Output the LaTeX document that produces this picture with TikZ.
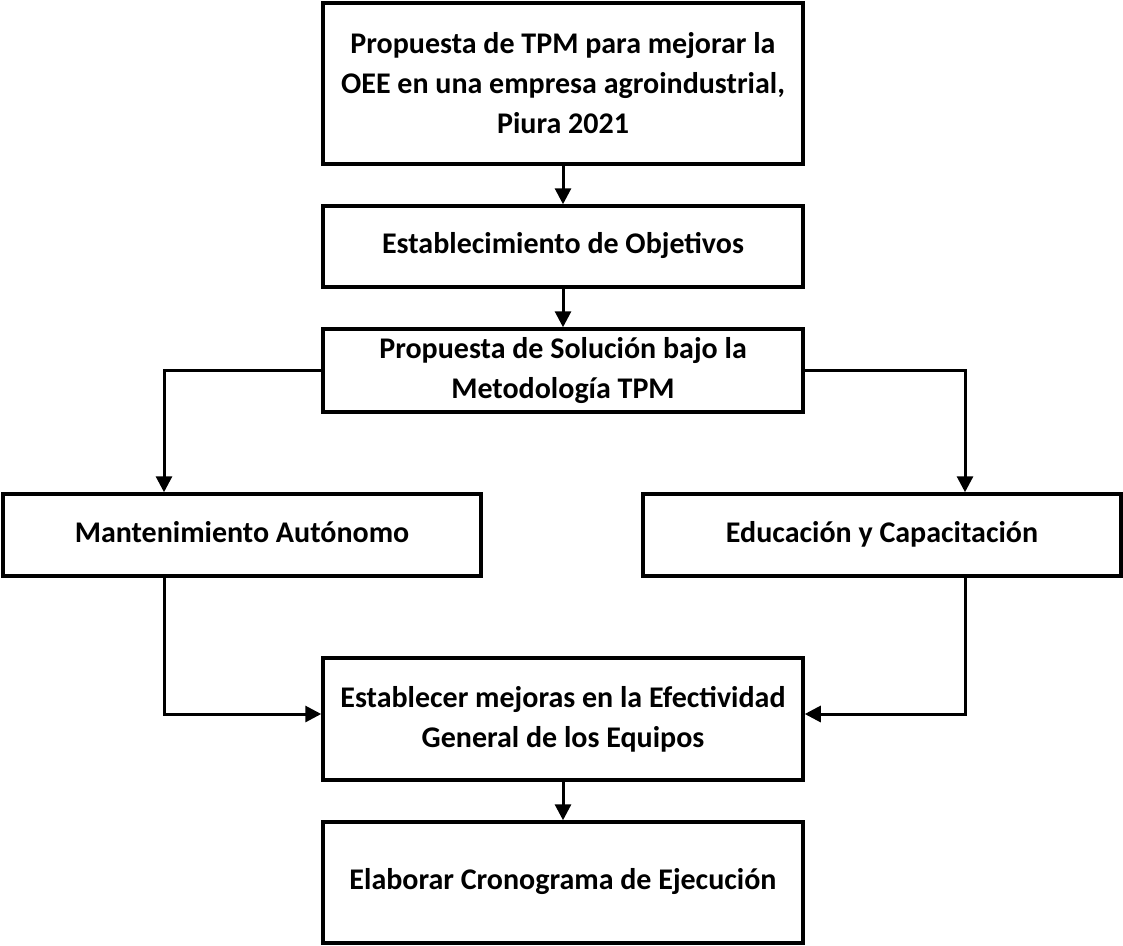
\documentclass[tikz,border=0pt]{standalone}
\usepackage{fontspec}
\setmainfont{Carlito}
\usetikzlibrary{arrows.meta}

\begin{document}
\begin{tikzpicture}[x=1pt,y=-1pt,
  box/.style={draw, line width=3.5pt, align=center, inner sep=0pt,
    minimum width=480pt, font=\fontsize{30}{40}\selectfont\bfseries},
  oneline/.style={text height=21pt, text depth=7pt},
  flow/.style={line width=3pt, -{Triangle[length=16pt,width=16pt]}}]

% Page size of the figure
\useasboundingbox (0,0) rectangle (1123,945);

% Central column of boxes
\node[box, minimum height=161pt] (tpm) at (563,83.5)
  {Propuesta de TPM para mejorar la\\OEE en una empresa agroindustrial,\\Piura 2021};
\node[box, oneline, minimum height=81pt] (obj) at (563,246.5) {Establecimiento de Objetivos};
\node[box, minimum height=83pt] (sol) at (563,370.5)
  {Propuesta de Solución bajo la\\Metodología TPM};

% The two branches
\node[box, oneline, minimum width=478pt, minimum height=82pt] (mant) at (242,535)
  {Mantenimiento Autónomo};
\node[box, oneline, minimum width=478pt, minimum height=82pt] (edu) at (882,535)
  {Educación y Capacitación};

% Joining again
\node[box, minimum height=122pt] (mej) at (563,719)
  {Establecer mejoras en la Efectividad\\General de los Equipos};
\node[box, oneline, minimum height=121pt] (cron) at (563,882.5)
  {Elaborar Cronograma de Ejecución};

% Arrows down the column
\draw[flow] (tpm) -- (obj);
\draw[flow] (obj) -- (sol);
\draw[flow] (mej) -- (cron);

% Arrows to and from the branches
\draw[flow] (sol.west) -| ([xshift=-78pt]mant.north);
\draw[flow] (sol.east) -| ([xshift=83pt]edu.north);
\draw[flow] ([xshift=-78pt]mant.south) |- ([yshift=5pt]mej.west);
\draw[flow] ([xshift=83pt]edu.south) |- ([yshift=5pt]mej.east);
\end{tikzpicture}
\end{document}
